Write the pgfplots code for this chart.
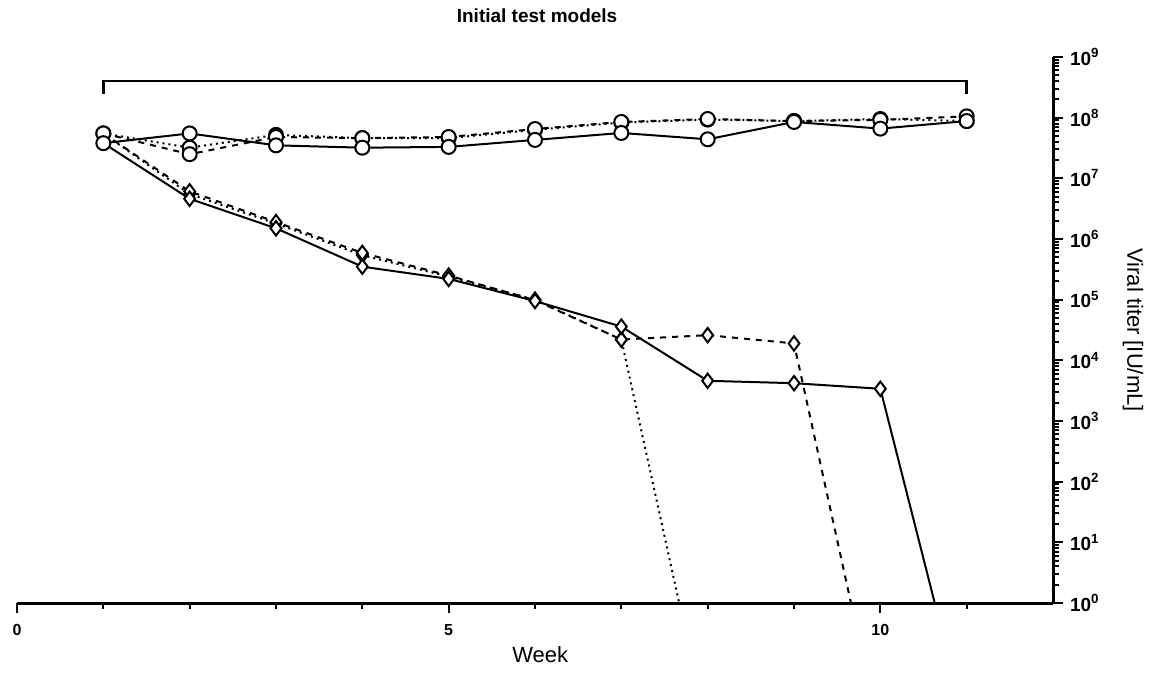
\documentclass[border=0pt]{standalone}
\usepackage{fontspec}
\setmainfont{Liberation Sans}
\usepackage{pgfplots}
\pgfplotsset{compat=1.18}

\begin{document}
\begin{tikzpicture}
\begin{axis}[name=ax,scale only axis,width=518pt,height=273pt,
  ymode=log,xmin=0,xmax=12,ymin=1,ymax=1e9,
  axis x line*=bottom,axis y line*=right,
  axis line style={-,line width=1.5pt},
  xtick={0,5,10},xticklabels={0,5,10},minor xtick={1,2,3,4,6,7,8,9,11},
  xtick align=outside,ytick align=outside,
  major tick length=5pt,minor tick length=3pt,
  every tick/.style={black,line width=1pt},
  xticklabel style={font=\fontsize{8}{9}\selectfont\bfseries,yshift=-2pt},
  ytickten={0,...,9},
  yticklabels={10\textsuperscript{0},10\textsuperscript{1},10\textsuperscript{2},10\textsuperscript{3},10\textsuperscript{4},10\textsuperscript{5},10\textsuperscript{6},10\textsuperscript{7},10\textsuperscript{8},10\textsuperscript{9}},
  yticklabel style={font=\fontsize{9.5}{11}\selectfont\bfseries,xshift=0pt},
  xlabel={Week},ylabel={Viral titer [IU/mL]},
  every axis x label/.style={at={(rel axis cs:0.505,0)},yshift=-26pt,anchor=center,font=\fontsize{11}{13}\selectfont},
  every axis y label/.style={at={(rel axis cs:1,0.5)},xshift=40pt,rotate=-90,anchor=center,font=\fontsize{11}{13}\selectfont},
  title={Initial test models},
  every axis title/.style={at={(rel axis cs:0.502,1)},yshift=20.5pt,anchor=center,font=\fontsize{9.5}{11}\selectfont\bfseries},
  every axis plot/.append style={black,line width=1pt},
  mark options={solid,fill=white,line width=1pt}]
% bracket
\addplot[no marks,line width=1.2pt] coordinates {(1,2.5e8) (1,4e8) (11,4e8) (11,2.5e8)};
% diamonds (declining)
\addplot[dotted,mark=diamond*,mark size=3.6pt,mark indices={2,3,4,5,6,7}] coordinates {(1,5.5e7) (2,5.5e6) (3,1.8e6) (4,5.4e5) (5,2.4e5) (6,1e5) (7,2.2e4) (7.67,1)};
\addplot[dashed,mark=diamond*,mark size=3.6pt,mark indices={2,3,4,5,6,7,8,9}] coordinates {(1,5.5e7) (2,6.1e6) (3,1.9e6) (4,5.9e5) (5,2.5e5) (6,9.8e4) (7,2.2e4) (8,2.6e4) (9,1.9e4) (9.66,1)};
\addplot[solid,mark=diamond*,mark size=3.6pt,mark indices={2,3,4,5,6,7,8,9,10}] coordinates {(1,3.8e7) (2,4.6e6) (3,1.5e6) (4,3.5e5) (5,2.2e5) (6,9.5e4) (7,3.6e4) (8,4.6e3) (9,4.2e3) (10,3.4e3) (10.63,1)};
% circles (stable)
\addplot[dotted,mark=*,mark size=3.5pt] coordinates {(1,5.5e7) (2,3.2e7) (3,5.2e7) (4,4.6e7) (5,4.6e7) (6,6.3e7) (7,8.3e7) (8,9.3e7) (9,8.8e7) (10,9.5e7) (11,8.8e7)};
\addplot[dashed,mark=*,mark size=3.5pt] coordinates {(1,5.5e7) (2,2.5e7) (3,4.8e7) (4,4.6e7) (5,4.8e7) (6,6.5e7) (7,8.5e7) (8,9.5e7) (9,8.8e7) (10,9.2e7) (11,1.05e8)};
\addplot[solid,mark=*,mark size=3.5pt] coordinates {(1,3.8e7) (2,5.5e7) (3,3.5e7) (4,3.2e7) (5,3.3e7) (6,4.3e7) (7,5.6e7) (8,4.4e7) (9,8.5e7) (10,6.6e7) (11,8.8e7)};
\end{axis}
\pgfresetboundingbox
\path ([xshift=-8.5pt,yshift=-37.5pt]ax.south west) rectangle ([xshift=51pt,yshift=28.5pt]ax.north east);
\end{tikzpicture}
\end{document}
